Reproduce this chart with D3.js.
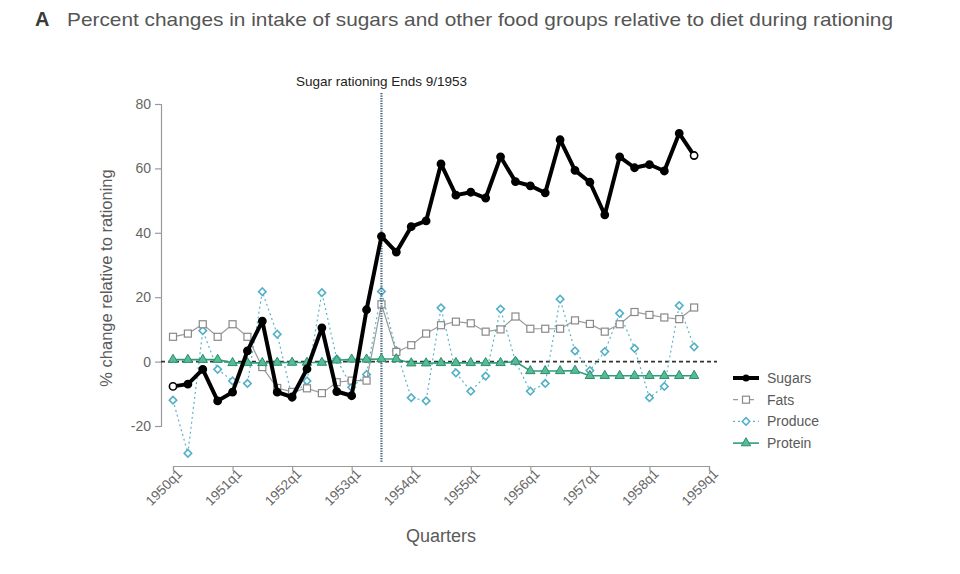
<!DOCTYPE html>
<html><head><meta charset="utf-8">
<script src="https://cdn.jsdelivr.net/npm/d3@7"></script>
<style>body{margin:0;background:#fff;font-family:"Liberation Sans",Arial,sans-serif;}</style>
</head><body><svg id="c" width="960" height="574"></svg>
<script>
const sugars = [-7.7,-7.0,-2.4,-12.2,-9.5,3.3,12.6,-9.5,-11.0,-2.3,10.5,-9.3,-10.6,16.1,38.9,34.0,41.9,43.7,61.4,51.7,52.6,50.8,63.6,55.9,54.6,52.4,68.9,59.4,55.7,45.6,63.6,60.2,61.2,59.2,70.9,64.0];
const fats = [7.7,8.7,11.6,7.7,11.6,7.7,-1.7,-8.2,-9.4,-8.3,-9.8,-6.4,-5.9,-5.9,17.8,3.0,5.1,8.7,11.3,12.4,11.9,9.3,10.0,14.0,10.2,10.2,10.2,12.8,11.7,9.3,11.6,15.4,14.5,13.7,13.2,16.8];
const produce = [-12.0,-28.5,9.6,-2.4,-6.0,-6.8,21.7,8.5,-11.2,-6.0,21.4,0.8,-8.0,-4.0,21.8,3.4,-11.2,-12.2,16.7,-3.5,-9.2,-4.5,16.3,0.1,-9.2,-6.8,19.4,3.3,-2.8,3.1,15.0,4.1,-11.2,-7.7,17.4,4.6];
const protein = [0.6,0.6,0.6,0.6,-0.4,-0.4,-0.4,-0.3,-0.3,-0.3,-0.3,0.4,0.7,0.7,0.8,0.8,-0.5,-0.5,-0.4,-0.4,-0.4,-0.4,-0.4,0.0,-2.9,-2.9,-2.9,-2.8,-4.4,-4.4,-4.4,-4.4,-4.4,-4.4,-4.4,-4.4];
const xTickLabels = ["1950q1","1951q1","1952q1","1953q1","1954q1","1955q1","1956q1","1957q1","1958q1","1959q1"];
const yTicks = [-20,0,20,40,60,80];
const seriesNames = ["Sugars","Fats","Produce","Protein"];
const rationEndIndex = 14; // 1953q3
const titleText = "Percent changes in intake of sugars and other food groups relative to diet during rationing";
const annotation = "Sugar rationing Ends 9/1953";

const svg = d3.select("#c");
const x = d3.scaleLinear().domain([0,36]).range([173,709]);
const y = d3.scaleLinear().domain([-20,80]).range([426,104]);
const axisColor = "#9a9a9a", textColor = "#5a5a5a";

// Title
svg.append("text").attr("x",35).attr("y",26).attr("font-size",20).attr("font-weight","bold").attr("fill","#3a3a3a").text("A");
const tt = svg.append("text").attr("x",67).attr("y",26).attr("font-size",19).attr("fill","#555").text(titleText);
tt.attr("textLength",826).attr("lengthAdjust","spacingAndGlyphs");

// Y axis
const yAxis = svg.append("g").attr("transform","translate(161,0)")
  .call(d3.axisLeft(y).tickValues(yTicks).tickFormat(d=>String(d)).tickSize(6).tickPadding(4));
yAxis.select(".domain").attr("stroke",axisColor).attr("stroke-width",1.2);
yAxis.selectAll(".tick line").attr("stroke",axisColor).attr("stroke-width",1.2);
yAxis.selectAll(".tick text").attr("fill","#666").attr("font-size",14).attr("font-family","Liberation Sans, Arial");

svg.append("text").attr("transform","translate(112,278) rotate(-90)").attr("text-anchor","middle")
  .attr("font-size",16.5).attr("fill",textColor).text("% change relative to rationing");

// X axis
const xAxis = svg.append("g").attr("transform","translate(0,466)")
  .call(d3.axisBottom(x).tickValues(d3.range(0,37,4)).tickFormat((d,i)=>xTickLabels[i]).tickSize(5).tickPadding(3));
xAxis.select(".domain").attr("stroke",axisColor).attr("stroke-width",1.2);
xAxis.selectAll(".tick line").attr("stroke",axisColor).attr("stroke-width",1.2);
xAxis.selectAll(".tick text").attr("fill","#666").attr("font-size",13.5).attr("font-family","Liberation Sans, Arial")
  .attr("text-anchor","end").attr("dy",0).attr("transform","translate(4,3) rotate(-45)");
svg.append("text").attr("x",441).attr("y",542).attr("text-anchor","middle").attr("font-size",18).attr("fill",textColor).text("Quarters");

// zero line
svg.append("line").attr("x1",161).attr("x2",717).attr("y1",y(0)).attr("y2",y(0))
  .attr("stroke","#333").attr("stroke-width",1.8).attr("stroke-dasharray","4,3");

const line = d3.line().x((d,i)=>x(i)).y(d=>y(d));

// Produce
svg.append("path").datum(produce).attr("d",line).attr("fill","none").attr("stroke","#5ab4c8").attr("stroke-width",1.2).attr("stroke-dasharray","2,3");
const diamond = d3.symbol().type(d3.symbolSquare).size(28);
svg.append("g").selectAll("path").data(produce).join("path").attr("d",diamond())
  .attr("transform",(d,i)=>`translate(${x(i)},${y(d)}) rotate(45)`).attr("fill","#fff").attr("stroke","#52b0c6").attr("stroke-width",1.6);

// Fats
svg.append("path").datum(fats).attr("d",line).attr("fill","none").attr("stroke","#9a9a9a").attr("stroke-width",1.2);
svg.append("g").selectAll("rect").data(fats).join("rect")
  .attr("x",(d,i)=>x(i)-3.5).attr("y",d=>y(d)-3.5).attr("width",7).attr("height",7)
  .attr("fill","#fff").attr("stroke","#8a8a8a").attr("stroke-width",1.2);

// vertical dotted line
svg.append("line").attr("x1",x(rationEndIndex)).attr("x2",x(rationEndIndex)).attr("y1",93).attr("y2",463)
  .attr("stroke","#3e5f80").attr("stroke-width",2.2).attr("stroke-dasharray","1.2,1.3");
svg.append("text").attr("x",x(rationEndIndex)).attr("y",86).attr("text-anchor","middle").attr("font-size",13.5).attr("fill","#222").text(annotation);

// Protein
svg.append("path").datum(protein).attr("d",line).attr("fill","none").attr("stroke","#2e9e78").attr("stroke-width",1.6);
const tri = d3.symbol().type(d3.symbolTriangle).size(38);
svg.append("g").selectAll("path").data(protein).join("path").attr("d",tri())
  .attr("transform",(d,i)=>`translate(${x(i)},${y(d)})`).attr("fill","#57bb95").attr("stroke","#2a8f6c").attr("stroke-width",1);

// Sugars
svg.append("path").datum(sugars).attr("d",line).attr("fill","none").attr("stroke","#000").attr("stroke-width",4).attr("stroke-linejoin","round");
svg.append("g").selectAll("circle").data(sugars).join("circle")
  .attr("cx",(d,i)=>x(i)).attr("cy",d=>y(d)).attr("r",3.6)
  .attr("fill",(d,i)=>(i===0||i===sugars.length-1)?"#fff":"#000").attr("stroke","#000").attr("stroke-width",1.6);

// Legend
const lg = svg.append("g").attr("transform","translate(733,378)");
const rowH = 21.7;
seriesNames.forEach((name,k)=>{
  const g = lg.append("g").attr("transform",`translate(0,${k*rowH})`);
  g.append("text").attr("x",34).attr("y",5).attr("font-size",14).attr("fill",textColor).text(name);
  if(k===0){
    g.append("line").attr("x1",0).attr("x2",26).attr("stroke","#000").attr("stroke-width",4);
    g.append("circle").attr("cx",13).attr("r",3.5).attr("fill","#000");
  } else if(k===1){
    g.append("line").attr("x1",0).attr("x2",26).attr("stroke","#9a9a9a").attr("stroke-width",1.2).attr("stroke-dasharray","5,11");
    g.append("rect").attr("x",9.5).attr("y",-3.5).attr("width",7).attr("height",7).attr("fill","#fff").attr("stroke","#8a8a8a").attr("stroke-width",1.2);
  } else if(k===2){
    g.append("line").attr("x1",0).attr("x2",26).attr("stroke","#5ab4c8").attr("stroke-width",1.2).attr("stroke-dasharray","2,3");
    g.append("path").attr("d",diamond()).attr("transform","translate(13,0) rotate(45)").attr("fill","#fff").attr("stroke","#52b0c6").attr("stroke-width",1.5);
  } else {
    g.append("line").attr("x1",0).attr("x2",26).attr("stroke","#2e9e78").attr("stroke-width",1.6);
    g.append("path").attr("d",tri()).attr("transform","translate(13,0)").attr("fill","#57bb95").attr("stroke","#2a8f6c").attr("stroke-width",1);
  }
});
</script></body></html>
